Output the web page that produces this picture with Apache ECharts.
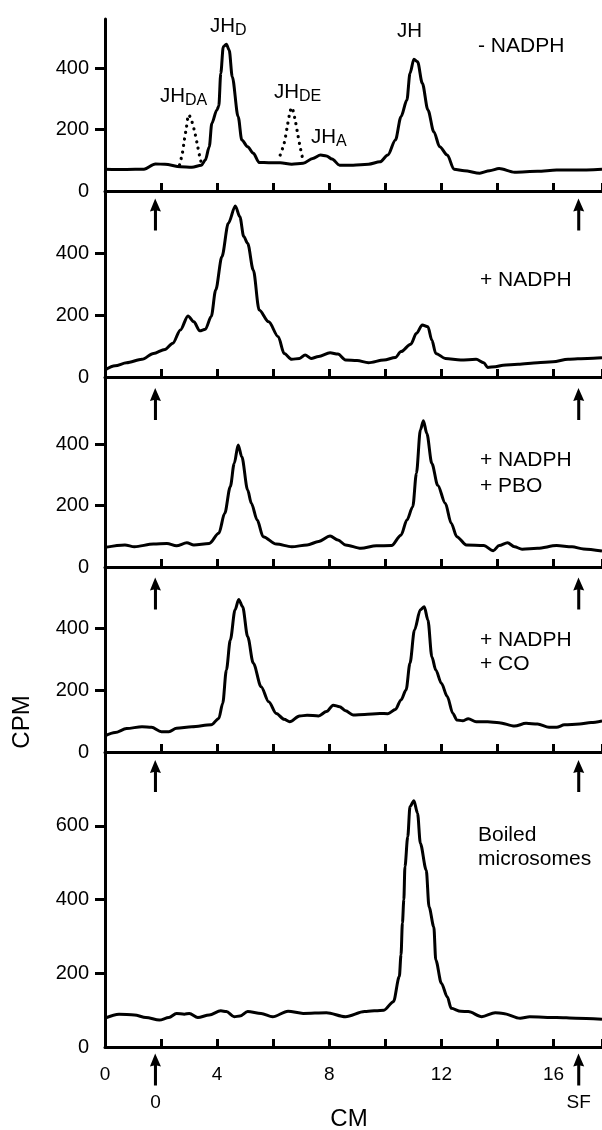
<!DOCTYPE html>
<html>
<head>
<meta charset="utf-8">
<script src="https://cdn.jsdelivr.net/npm/echarts@6/dist/echarts.min.js"></script>
<style>
html,body{margin:0;padding:0;background:#fff;}
#chart{width:602px;height:1130px;}
</style>
</head>
<body>
<div id="chart"></div>
<script>
// ---------- DATA ----------
const panelLabels = [['- NADPH'], ['+ NADPH'], ['+ NADPH', '+ PBO'], ['+ NADPH', '+ CO'], ['Boiled', 'microsomes']];

const cmMinus  = [0,0.77,1.39,1.80,2.14,2.69,3.10,3.44,3.58,3.72,3.81,3.99,4.06,4.13,4.22,4.33,4.43,4.54,4.75,4.88,5.09,5.29,5.50,5.84,6.25,6.66,7.07,7.41,7.69,7.90,8.10,8.37,8.85,9.40,9.81,10.09,10.36,10.56,10.77,10.88,11.02,11.15,11.32,11.52,11.73,11.94,12.21,12.45,12.82,13.37,13.72,14.06,14.61,15.43,16.11,16.80,17.73];
const cpmMinus = [71,70,71,88,87,79,77,84,101,144,220,264,277,383,470,478,459,372,242,166,144,123,93,92,92,87,90,106,117,114,104,84,84,87,95,117,166,242,296,383,429,421,351,264,193,144,117,71,66,58,66,73,61,64,68,68,71];

const cmDA  = [2.66,2.76,2.83,2.90,2.99,3.10,3.21,3.31,3.38,3.44];
const cpmDA = [85,123,166,204,248,226,188,144,112,90];
const cmDE  = [6.25,6.39,6.50,6.59,6.66,6.77,6.87,6.96,7.05];
const cpmDE = [117,155,209,253,272,237,188,144,106];

const cmPlus  = [0,0.36,0.77,1.32,1.73,2.14,2.42,2.69,2.96,3.17,3.38,3.58,3.79,3.95,4.17,4.40,4.65,4.81,4.95,5.09,5.29,5.50,5.84,6.18,6.39,6.66,6.94,7.14,7.35,7.62,8.03,8.31,8.58,8.99,9.40,9.95,10.36,10.56,10.91,11.11,11.32,11.52,11.66,11.80,12.14,12.69,13.24,13.51,13.65,13.92,14.20,14.74,15.43,15.98,16.52,17.21,17.73];
const cpmPlus = [23,36,46,57,76,89,109,152,197,178,149,154,195,281,388,496,552,517,453,431,345,216,178,130,76,57,60,71,60,66,78,74,55,53,46,55,63,82,106,141,168,162,119,76,60,55,57,46,31,33,38,41,46,49,57,60,62];

const cmPBO  = [0,0.71,1.05,1.73,2.21,2.55,2.92,3.17,3.72,4.06,4.27,4.47,4.61,4.75,4.88,5.09,5.22,5.43,5.64,6.11,6.66,7.21,7.62,8.03,8.31,8.58,9.13,9.68,10.22,10.56,10.77,10.98,11.11,11.25,11.36,11.48,11.66,11.87,12.14,12.35,12.55,12.89,13.51,13.85,14.06,14.36,14.61,14.88,15.43,16.11,16.66,17.07,17.73];
const cpmPBO = [64,72,66,75,77,69,79,72,77,110,175,262,338,398,360,251,208,153,99,75,66,72,83,101,88,72,61,69,70,104,153,197,306,447,477,436,338,267,208,143,99,72,70,53,70,79,66,58,61,70,66,59,52];

const cmCO  = [0,0.36,0.77,1.32,1.66,2.01,2.28,2.55,3.10,3.79,4.06,4.20,4.33,4.47,4.64,4.77,4.91,5.09,5.29,5.57,5.84,6.11,6.39,6.59,6.94,7.21,7.62,7.90,8.14,8.37,8.58,8.85,9.26,9.81,10.09,10.36,10.56,10.74,10.88,11.04,11.25,11.39,11.52,11.66,11.80,12.00,12.21,12.41,12.55,12.76,12.96,13.24,13.65,14.06,14.61,15.02,15.43,15.84,16.11,16.39,16.93,17.34,17.73];
const cpmCO = [52,63,76,82,80,66,66,77,82,88,109,158,266,363,461,495,471,374,288,212,163,125,106,98,117,119,117,131,152,147,134,120,122,125,124,138,169,201,288,396,461,471,428,309,266,223,180,125,104,101,108,98,98,95,84,93,91,80,80,88,91,96,101];

const cmBoiled  = [0,0.50,1.05,1.46,1.94,2.28,2.55,2.83,3.01,3.31,3.72,4.13,4.33,4.61,4.81,5.09,5.57,5.98,6.53,7.07,7.90,8.58,9.26,9.95,10.29,10.50,10.56,10.61,10.66,10.70,10.80,10.88,11.02,11.15,11.25,11.46,11.56,11.73,11.80,12.00,12.21,12.35,12.69,12.96,13.44,13.92,14.20,14.81,15.15,16.11,16.80,17.73];
const cpmBoiled = [78,89,87,80,73,80,91,89,91,80,87,98,96,82,84,96,91,82,97,91,93,82,96,100,123,191,250,336,399,489,570,652,668,634,552,480,380,326,236,173,136,105,97,96,82,93,91,78,82,80,78,75];

const xLabelValues = [0, 4, 8, 12, 16];
const yTickValues = [[200,400],[200,400],[200,400],[200,400],[200,400,600]];
const yMaxValues = [560, 600, 620, 600, 800];

// origin and solvent-front markers (cm)
const markerCm = [1.8, 16.9];
const markerNames = ['0', 'SF'];
const markerCpm = [null, 524, 532, 514, 735]; // arrow heights in each panel
const bottomMarkerCpm = -61;

// ---------- LAYOUT ----------
const FONT = '"Liberation Sans", Arial, Helvetica, sans-serif';
const X_MAX = 17.73;
const grids = [
  {top: 19,  height: 172},
  {top: 191, height: 186},
  {top: 377, height: 190},
  {top: 567, height: 185},
  {top: 752, height: 295}
];
const curves = [
  [cmMinus, cpmMinus], [cmPlus, cpmPlus], [cmPBO, cpmPBO], [cmCO, cpmCO], [cmBoiled, cpmBoiled]
];
const pair = (xs, ys) => xs.map((x, i) => [x, ys[i]]);

const chart = echarts.init(document.getElementById('chart'), null, {renderer: 'canvas'});

const option = {
  backgroundColor: '#fff',
  animation: false,
  textStyle: {fontFamily: FONT, color: '#000'},
  grid: grids.map(g => ({left: 105, right: 0, top: g.top, height: g.height, containLabel: false})),
  xAxis: grids.map((g, i) => ({
    gridIndex: i, type: 'value', min: 0, max: X_MAX, interval: 2,
    axisLine: {show: true, onZero: false, lineStyle: {color: '#000', width: 3}},
    axisTick: {show: true, inside: true, length: 8, lineStyle: {color: '#000', width: 3}},
    axisLabel: {show: i === 4, customValues: xLabelValues, margin: 18, fontSize: 19, color: '#000', fontFamily: FONT},
    splitLine: {show: false}
  })),
  yAxis: grids.map((g, i) => ({
    gridIndex: i, type: 'value', min: 0, max: yMaxValues[i],
    axisLine: {show: true, onZero: false, lineStyle: {color: '#000', width: 3}},
    axisTick: {show: true, length: 10, customValues: yTickValues[i], lineStyle: {color: '#000', width: 3}},
    axisLabel: {customValues: [0].concat(yTickValues[i]), margin: 16, fontSize: 20, color: '#000', fontFamily: FONT},
    splitLine: {show: false}
  })),
  series: []
};

curves.forEach((c, i) => {
  option.series.push({
    type: 'line', xAxisIndex: i, yAxisIndex: i, data: pair(c[0], c[1]),
    showSymbol: false, symbol: 'none', smooth: 0.3, smoothMonotone: 'x',
    lineStyle: {color: '#000', width: 3, join: 'round'}
  });
});

[[cmDA, cpmDA], [cmDE, cpmDE]].forEach(c => {
  option.series.push({
    type: 'line', xAxisIndex: 0, yAxisIndex: 0, data: pair(c[0], c[1]),
    showSymbol: false, symbol: 'none', smooth: 0.3,
    lineStyle: {color: '#000', width: 3.2, type: [0.1, 6.5], cap: 'round'}
  });
});

const ARROW = 'path://M5,0 L10.5,13 L6.7,12 L6.7,32 L3.8,32 L3.8,12 L0,13 Z';
for (let i = 1; i < 5; i++) {
  option.series.push({
    type: 'scatter', xAxisIndex: i, yAxisIndex: i, clip: false, silent: true,
    symbol: ARROW, symbolSize: [11, 32],
    itemStyle: {color: '#000', opacity: 1},
    data: markerCm.map(x => [x, markerCpm[i]])
  });
}
option.series.push({
  type: 'scatter', xAxisIndex: 4, yAxisIndex: 4, clip: false, silent: true,
  symbol: ARROW, symbolSize: [11, 32],
  itemStyle: {color: '#000', opacity: 1},
  label: {show: true, position: 'bottom', distance: 8, fontSize: 19, color: '#000', opacity: 1, fontFamily: FONT,
          formatter: p => markerNames[p.dataIndex]},
  data: markerCm.map(x => [x, bottomMarkerCpm])
});

// ---------- TEXT ----------
const txt = (text, x, y, size, extra) => Object.assign({
  type: 'text', x: x, y: y, silent: true,
  style: {text: text, fontSize: size, fontFamily: FONT, fill: '#000', textAlign: 'left', textVerticalAlign: 'middle'}
}, extra || {});

const graphics = [];
// panel condition labels
const labelPos = [[478, [46]], [480, [280]], [480, [460, 486]], [480, [640, 664]], [478, [835, 859]]];
panelLabels.forEach((lines, i) => {
  lines.forEach((t, j) => graphics.push(txt(t, labelPos[i][0], labelPos[i][1][j], 21)));
});
// peak names with subscripts
const peakNames = [
  ['JH', 'D', 210, 26],
  ['JH', '', 397, 31],
  ['JH', 'DA', 160, 96],
  ['JH', 'DE', 274, 92],
  ['JH', 'A', 311, 137]
];
peakNames.forEach(p => {
  graphics.push(txt(p[0], p[2], p[3], 20.5));
  if (p[1]) graphics.push(txt(p[1], p[2] + 25, p[3] + 5, 16));
});
// axis titles
graphics.push({type: 'text', x: 22, y: 722, rotation: Math.PI / 2, silent: true,
  style: {text: 'CPM', fontSize: 24, fontFamily: FONT, fill: '#000', textAlign: 'center', textVerticalAlign: 'middle'}});
graphics.push({type: 'text', x: 349, y: 1119, silent: true,
  style: {text: 'CM', fontSize: 24, fontFamily: FONT, fill: '#000', textAlign: 'center', textVerticalAlign: 'middle'}});

option.graphic = graphics;
chart.setOption(option);
</script>
</body>
</html>
